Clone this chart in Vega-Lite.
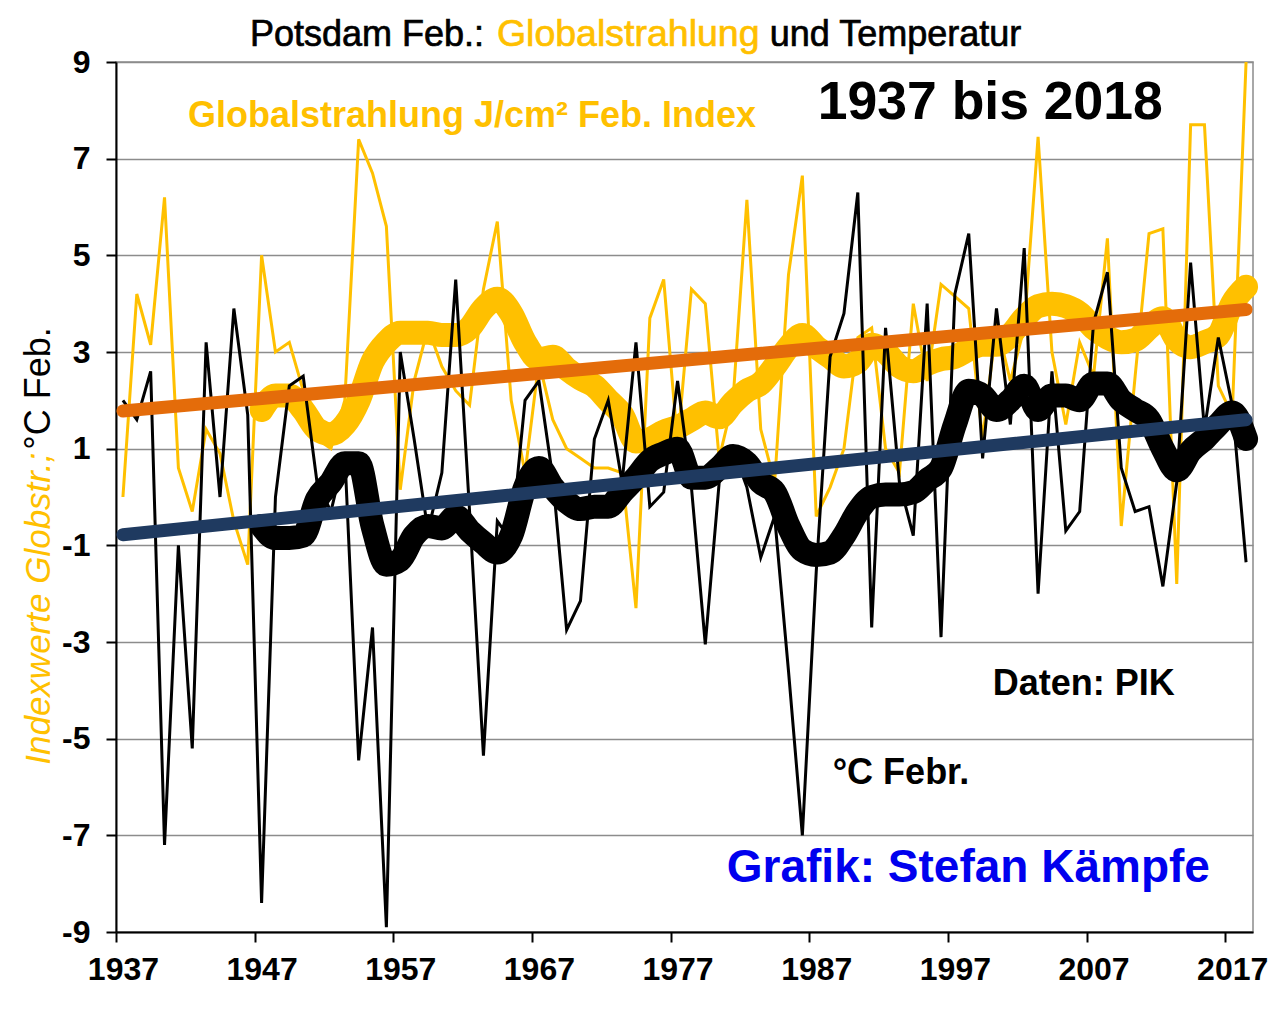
{
  "$schema": "https://vega.github.io/schema/vega-lite/v6.json",
  "width": 1137,
  "height": 870,
  "autosize": {"type": "none"},
  "padding": {"left": 116, "top": 62, "right": 32, "bottom": 82},
  "background": "white",
  "config": {"view": {"stroke": "#8c8c8c", "strokeWidth": 1.5}, "font": "Liberation Sans"},
  "datasets": {
    "glob": [
      {"year":1937,"value":0.0},{"year":1938,"value":4.2},{"year":1939,"value":3.15},{"year":1940,"value":6.2},{"year":1941,"value":0.6},{"year":1942,"value":-0.3},{"year":1943,"value":1.4},{"year":1944,"value":0.9},{"year":1945,"value":-0.5},{"year":1946,"value":-1.4},
      {"year":1947,"value":5.0},{"year":1948,"value":3.0},{"year":1949,"value":3.2},{"year":1950,"value":2.2},{"year":1951,"value":1.2},{"year":1952,"value":1.0},{"year":1953,"value":2.0},{"year":1954,"value":7.4},{"year":1955,"value":6.7},{"year":1956,"value":5.6},
      {"year":1957,"value":0.15},{"year":1958,"value":2.4},{"year":1959,"value":3.5},{"year":1960,"value":2.7},{"year":1961,"value":2.2},{"year":1962,"value":1.9},{"year":1963,"value":4.3},{"year":1964,"value":5.7},{"year":1965,"value":2.0},{"year":1966,"value":0.5},
      {"year":1967,"value":2.8},{"year":1968,"value":1.6},{"year":1969,"value":1.0},{"year":1970,"value":0.8},{"year":1971,"value":0.6},{"year":1972,"value":0.6},{"year":1973,"value":0.5},{"year":1974,"value":-2.3},{"year":1975,"value":3.7},{"year":1976,"value":4.5},
      {"year":1977,"value":1.1},{"year":1978,"value":4.3},{"year":1979,"value":4.0},{"year":1980,"value":0.8},{"year":1981,"value":2.0},{"year":1982,"value":6.15},{"year":1983,"value":1.4},{"year":1984,"value":0.3},{"year":1985,"value":4.6},{"year":1986,"value":6.65},
      {"year":1987,"value":-0.4},{"year":1988,"value":0.2},{"year":1989,"value":1.0},{"year":1990,"value":3.3},{"year":1991,"value":3.5},{"year":1992,"value":1.0},{"year":1993,"value":0.5},{"year":1994,"value":4.0},{"year":1995,"value":2.4},{"year":1996,"value":4.4},
      {"year":1997,"value":4.15},{"year":1998,"value":3.9},{"year":1999,"value":1.2},{"year":2000,"value":3.6},{"year":2001,"value":2.4},{"year":2002,"value":3.5},{"year":2003,"value":7.45},{"year":2004,"value":3.0},{"year":2005,"value":1.5},{"year":2006,"value":3.2},
      {"year":2007,"value":2.5},{"year":2008,"value":5.35},{"year":2009,"value":-0.6},{"year":2010,"value":2.5},{"year":2011,"value":5.45},{"year":2012,"value":5.55},{"year":2013,"value":-1.8},{"year":2014,"value":7.7},{"year":2015,"value":7.7},{"year":2016,"value":2.3},
      {"year":2017,"value":1.7},{"year":2018,"value":9.0}
    ],
    "temp": [
      {"year":1937,"value":2.0},{"year":1938,"value":1.6},{"year":1939,"value":2.6},{"year":1940,"value":-7.2},{"year":1941,"value":-1.0},{"year":1942,"value":-5.2},{"year":1943,"value":3.2},{"year":1944,"value":0.0},{"year":1945,"value":3.9},{"year":1946,"value":1.7},
      {"year":1947,"value":-8.4},{"year":1948,"value":0.0},{"year":1949,"value":2.3},{"year":1950,"value":2.5},{"year":1951,"value":0.3},{"year":1952,"value":-0.3},{"year":1953,"value":0.9},{"year":1954,"value":-5.45},{"year":1955,"value":-2.7},{"year":1956,"value":-8.9},
      {"year":1957,"value":3.0},{"year":1958,"value":1.2},{"year":1959,"value":-0.7},{"year":1960,"value":0.5},{"year":1961,"value":4.5},{"year":1962,"value":-0.3},{"year":1963,"value":-5.35},{"year":1964,"value":-0.5},{"year":1965,"value":-0.9},{"year":1966,"value":2.0},
      {"year":1967,"value":2.4},{"year":1968,"value":0.4},{"year":1969,"value":-2.75},{"year":1970,"value":-2.15},{"year":1971,"value":1.2},{"year":1972,"value":2.0},{"year":1973,"value":0.3},{"year":1974,"value":3.2},{"year":1975,"value":-0.2},{"year":1976,"value":0.1},
      {"year":1977,"value":2.4},{"year":1978,"value":0.2},{"year":1979,"value":-3.05},{"year":1980,"value":0.3},{"year":1981,"value":1.0},{"year":1982,"value":0.2},{"year":1983,"value":-1.25},{"year":1984,"value":-0.4},{"year":1985,"value":-3.6},{"year":1986,"value":-7.0},
      {"year":1987,"value":-1.55},{"year":1988,"value":2.9},{"year":1989,"value":3.8},{"year":1990,"value":6.3},{"year":1991,"value":-2.7},{"year":1992,"value":3.5},{"year":1993,"value":0.3},{"year":1994,"value":-0.8},{"year":1995,"value":4.0},{"year":1996,"value":-2.9},
      {"year":1997,"value":4.2},{"year":1998,"value":5.45},{"year":1999,"value":0.8},{"year":2000,"value":3.9},{"year":2001,"value":1.5},{"year":2002,"value":5.15},{"year":2003,"value":-2.0},{"year":2004,"value":2.6},{"year":2005,"value":-0.7},{"year":2006,"value":-0.3},
      {"year":2007,"value":3.6},{"year":2008,"value":4.65},{"year":2009,"value":0.6},{"year":2010,"value":-0.3},{"year":2011,"value":-0.2},{"year":2012,"value":-1.85},{"year":2013,"value":0.3},{"year":2014,"value":4.85},{"year":2015,"value":1.4},{"year":2016,"value":3.3},
      {"year":2017,"value":1.9},{"year":2018,"value":-1.35}
    ],
    "globMA": [
      {"year":1947,"value":1.8},{"year":1948,"value":2.1},{"year":1949,"value":2.1},{"year":1950,"value":1.8},{"year":1951,"value":1.4},{"year":1952,"value":1.3},{"year":1953,"value":1.5},{"year":1954,"value":2.0},{"year":1955,"value":2.8},{"year":1956,"value":3.2},
      {"year":1957,"value":3.4},{"year":1958,"value":3.4},{"year":1959,"value":3.4},{"year":1960,"value":3.35},{"year":1961,"value":3.35},{"year":1962,"value":3.5},{"year":1963,"value":3.9},{"year":1964,"value":4.1},{"year":1965,"value":3.8},{"year":1966,"value":3.2},
      {"year":1967,"value":2.85},{"year":1968,"value":2.9},{"year":1969,"value":2.65},{"year":1970,"value":2.45},{"year":1971,"value":2.3},{"year":1972,"value":2.0},{"year":1973,"value":1.7},{"year":1974,"value":1.15},{"year":1975,"value":1.2},{"year":1976,"value":1.35},
      {"year":1977,"value":1.45},{"year":1978,"value":1.6},{"year":1979,"value":1.75},{"year":1980,"value":1.65},{"year":1981,"value":1.95},{"year":1982,"value":2.2},{"year":1983,"value":2.35},{"year":1984,"value":2.7},{"year":1985,"value":3.1},{"year":1986,"value":3.35},
      {"year":1987,"value":3.1},{"year":1988,"value":2.9},{"year":1989,"value":2.7},{"year":1990,"value":2.8},{"year":1991,"value":3.15},{"year":1992,"value":3.0},{"year":1993,"value":2.7},{"year":1994,"value":2.6},{"year":1995,"value":2.75},{"year":1996,"value":2.85},
      {"year":1997,"value":2.9},{"year":1998,"value":3.05},{"year":1999,"value":3.15},{"year":2000,"value":3.15},{"year":2001,"value":3.35},{"year":2002,"value":3.7},{"year":2003,"value":3.95},{"year":2004,"value":4.0},{"year":2005,"value":3.95},{"year":2006,"value":3.8},
      {"year":2007,"value":3.5},{"year":2008,"value":3.3},{"year":2009,"value":3.2},{"year":2010,"value":3.25},{"year":2011,"value":3.5},{"year":2012,"value":3.7},{"year":2013,"value":3.25},{"year":2014,"value":3.1},{"year":2015,"value":3.2},{"year":2016,"value":3.35},
      {"year":2017,"value":4.0},{"year":2018,"value":4.35}
    ],
    "tempMA": [
      {"year":1947,"value":-0.6},{"year":1948,"value":-0.85},{"year":1949,"value":-0.85},{"year":1950,"value":-0.8},{"year":1951,"value":-0.05},{"year":1952,"value":0.3},{"year":1953,"value":0.7},{"year":1954,"value":0.7},{"year":1955,"value":-0.6},{"year":1956,"value":-1.4},
      {"year":1957,"value":-1.3},{"year":1958,"value":-0.8},{"year":1959,"value":-0.6},{"year":1960,"value":-0.65},{"year":1961,"value":-0.4},{"year":1962,"value":-0.7},{"year":1963,"value":-0.95},{"year":1964,"value":-1.15},{"year":1965,"value":-0.8},{"year":1966,"value":0.2},
      {"year":1967,"value":0.6},{"year":1968,"value":0.2},{"year":1969,"value":-0.1},{"year":1970,"value":-0.25},{"year":1971,"value":-0.2},{"year":1972,"value":-0.2},{"year":1973,"value":0.1},{"year":1974,"value":0.4},{"year":1975,"value":0.75},{"year":1976,"value":0.9},
      {"year":1977,"value":1.0},{"year":1978,"value":0.4},{"year":1979,"value":0.4},{"year":1980,"value":0.6},{"year":1981,"value":0.85},{"year":1982,"value":0.7},{"year":1983,"value":0.3},{"year":1984,"value":0.1},{"year":1985,"value":-0.6},{"year":1986,"value":-1.1},
      {"year":1987,"value":-1.2},{"year":1988,"value":-1.15},{"year":1989,"value":-0.8},{"year":1990,"value":-0.3},{"year":1991,"value":0.0},{"year":1992,"value":0.05},{"year":1993,"value":0.05},{"year":1994,"value":0.1},{"year":1995,"value":0.35},{"year":1996,"value":0.6},
      {"year":1997,"value":1.5},{"year":1998,"value":2.2},{"year":1999,"value":2.1},{"year":2000,"value":1.8},{"year":2001,"value":2.0},{"year":2002,"value":2.3},{"year":2003,"value":1.8},{"year":2004,"value":2.1},{"year":2005,"value":2.1},{"year":2006,"value":2.0},
      {"year":2007,"value":2.35},{"year":2008,"value":2.35},{"year":2009,"value":2.0},{"year":2010,"value":1.8},{"year":2011,"value":1.6},{"year":2012,"value":1.0},{"year":2013,"value":0.55},{"year":2014,"value":0.95},{"year":2015,"value":1.2},{"year":2016,"value":1.5},
      {"year":2017,"value":1.75},{"year":2018,"value":1.2}
    ],
    "globTrend": [{"year":1937,"value":1.78},{"year":2018,"value":3.88}],
    "tempTrend": [{"year":1937,"value":-0.78},{"year":2018,"value":1.6}],
    "titleBlack": [{"year":1946.16,"value":9.56,"text":"Potsdam Feb.:"},{"year":1983.65,"value":9.56,"text":"und Temperatur"}],
    "titleYellow": [{"year":1963.97,"value":9.56,"text":"Globalstrahlung"}],
    "noteYellow": [{"year":1941.69,"value":7.89,"text":"Globalstrahlung J/cm² Feb. Index"}],
    "noteBig": [{"year":1987.11,"value":8.16,"text":"1937 bis 2018"}],
    "noteBlack": [{"year":1999.73,"value":-3.86,"text":"Daten: PIK"},{"year":1988.19,"value":-5.7,"text":"°C Febr."}],
    "noteBlue": [{"year":1980.55,"value":-7.67,"text":"Grafik: Stefan Kämpfe"}],
    "yTitleYellow": [{"year":1930.95,"value":-5.54,"text":"Indexwerte Globstr.;"}],
    "yTitleBlack": [{"year":1930.95,"value":0.98,"text":"°C Feb."}]
  },
  "encoding": {
    "x": {
      "field": "year", "type": "quantitative",
      "scale": {"domain": [1936.5, 2018.5], "nice": false, "zero": false},
      "axis": {
        "values": [1937,1947,1957,1967,1977,1987,1997,2007,2017],
        "format": "d", "title": null, "grid": false,
        "labelFont": "Liberation Sans", "labelFontWeight": "bold", "labelFontSize": 32, "labelColor": "#000000",
        "labelPadding": 12, "labelFlush": false, "labelOverlap": false,
        "tickSize": 10, "tickWidth": 2, "tickColor": "#000000", "tickOffset": -6.9, "labelOffset": 6.9,
        "domainColor": "#000000", "domainWidth": 2
      }
    },
    "y": {
      "field": "value", "type": "quantitative",
      "scale": {"domain": [-9, 9], "nice": false, "zero": false},
      "axis": {
        "values": [-9,-7,-5,-3,-1,1,3,5,7,9],
        "labelExpr": "'' + datum.value",
        "title": null, "grid": true, "gridColor": "#8c8c8c", "gridWidth": 1.5,
        "labelFont": "Liberation Sans", "labelFontWeight": "bold", "labelFontSize": 32, "labelColor": "#000000",
        "labelPadding": 16, "labelFlush": false, "labelOverlap": false,
        "tickSize": 10, "tickWidth": 2, "tickColor": "#000000",
        "domainColor": "#000000", "domainWidth": 2
      }
    }
  },
  "layer": [
    {"data": {"name": "globMA"}, "mark": {"type": "line", "color": "#FFC000", "strokeWidth": 24, "strokeCap": "round", "strokeJoin": "round", "interpolate": "monotone"}},
    {"data": {"name": "glob"}, "mark": {"type": "line", "color": "#FFC000", "strokeWidth": 3, "strokeJoin": "miter"}},
    {"data": {"name": "tempMA"}, "mark": {"type": "line", "color": "#000000", "strokeWidth": 24, "strokeCap": "round", "strokeJoin": "round", "interpolate": "monotone"}},
    {"data": {"name": "temp"}, "mark": {"type": "line", "color": "#000000", "strokeWidth": 3, "strokeJoin": "miter"}},
    {"data": {"name": "globTrend"}, "mark": {"type": "line", "color": "#E46C0A", "strokeWidth": 13, "strokeCap": "round"}},
    {"data": {"name": "tempTrend"}, "mark": {"type": "line", "color": "#1F3A60", "strokeWidth": 13, "strokeCap": "round"}},
    {"data": {"name": "titleBlack"}, "mark": {"type": "text", "align": "left", "baseline": "middle", "font": "Liberation Sans", "fontSize": 36, "color": "#000000", "stroke": "#000000", "strokeWidth": 0.7}, "encoding": {"text": {"field": "text"}}},
    {"data": {"name": "titleYellow"}, "mark": {"type": "text", "align": "left", "baseline": "middle", "font": "Liberation Sans", "fontSize": 37.5, "color": "#FFC000", "stroke": "#FFC000", "strokeWidth": 0.7}, "encoding": {"text": {"field": "text"}}},
    {"data": {"name": "noteYellow"}, "mark": {"type": "text", "align": "left", "baseline": "middle", "font": "Liberation Sans", "fontSize": 36, "fontWeight": "bold", "color": "#FFC000"}, "encoding": {"text": {"field": "text"}}},
    {"data": {"name": "noteBig"}, "mark": {"type": "text", "align": "left", "baseline": "middle", "font": "Liberation Sans", "fontSize": 53.5, "fontWeight": "bold", "color": "#000000"}, "encoding": {"text": {"field": "text"}}},
    {"data": {"name": "noteBlack"}, "mark": {"type": "text", "align": "left", "baseline": "middle", "font": "Liberation Sans", "fontSize": 36, "fontWeight": "bold", "color": "#000000"}, "encoding": {"text": {"field": "text"}}},
    {"data": {"name": "noteBlue"}, "mark": {"type": "text", "align": "left", "baseline": "middle", "font": "Liberation Sans", "fontSize": 46, "fontWeight": "bold", "color": "#0000EE"}, "encoding": {"text": {"field": "text"}}},
    {"data": {"name": "yTitleYellow"}, "mark": {"type": "text", "align": "left", "baseline": "middle", "angle": 270, "font": "Liberation Sans", "fontSize": 35, "fontStyle": "italic", "color": "#FFC000"}, "encoding": {"text": {"field": "text"}}},
    {"data": {"name": "yTitleBlack"}, "mark": {"type": "text", "align": "left", "baseline": "middle", "angle": 270, "font": "Liberation Sans", "fontSize": 36, "color": "#000000"}, "encoding": {"text": {"field": "text"}}}
  ]
}
